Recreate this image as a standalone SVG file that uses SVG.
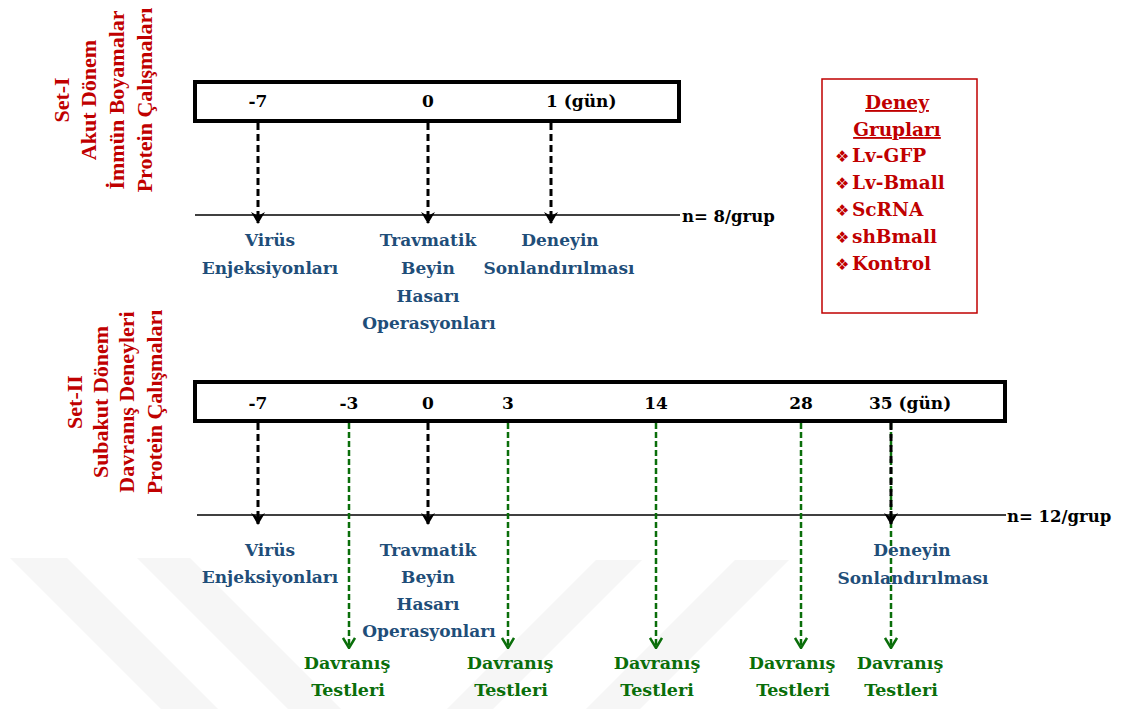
<svg xmlns="http://www.w3.org/2000/svg" width="1121" height="709" viewBox="0 0 1121 709">
<style>
.red{font-family:"Liberation Serif","Times New Roman",serif;font-weight:bold;font-size:22px;fill:#C00000;text-anchor:middle}
.num{font-family:"DejaVu Serif",serif;font-weight:bold;font-size:17px;fill:#000}
.nn{font-family:"DejaVu Serif",serif;font-weight:bold;font-size:16.5px;fill:#000}
.blue{font-family:"DejaVu Serif",serif;font-weight:bold;font-size:17px;fill:#1F4E79;text-anchor:middle}
.green{font-family:"DejaVu Serif",serif;font-weight:bold;font-size:17.5px;fill:#0A6E0A;text-anchor:middle}
.grp{font-family:"DejaVu Serif",serif;font-weight:bold;font-size:18.5px;fill:#C00000}
.bul{font-family:"DejaVu Sans",sans-serif;font-size:16px;font-weight:normal}
.box{fill:#fff;stroke:#000;stroke-width:4}
.axis{stroke:#000;stroke-width:1.5;fill:none}
.bdash{stroke:#000;stroke-width:3;stroke-dasharray:7 4;fill:none;marker-end:url(#ab)}
.gdash{stroke:#0A6E0A;stroke-width:2.5;stroke-dasharray:6 3;fill:none;marker-end:url(#ag)}
.wm{fill:#f6f6f6}
</style>
<defs>
<marker id="ab" viewBox="0 0 12 14" refX="11" refY="7" markerWidth="12" markerHeight="14" markerUnits="userSpaceOnUse" orient="auto">
<path d="M0,0 L12,7 L0,14 L4,7 z" fill="#000"/>
</marker>
<marker id="ag" viewBox="0 0 12 14" refX="11" refY="7" markerWidth="12" markerHeight="14" markerUnits="userSpaceOnUse" orient="auto">
<path d="M1,1 L11,7 L1,13" fill="none" stroke="#0A6E0A" stroke-width="2.5"/>
</marker>
</defs>
<rect width="1121" height="709" fill="#fff"/>
<g id="watermark">
<polygon class="wm" points="10,558 67,558 218,709 161,709"/>
<polygon class="wm" points="137,558 190,558 341,709 288,709"/>
<polygon class="wm" points="596,560 642,560 493,709 447,709"/>
<polygon class="wm" points="735,560 789,560 640,709 586,709"/>
</g>
<g id="set1-title">
<text class="red" transform="translate(69,100) rotate(-90)">Set-I</text>
<text class="red" transform="translate(96,100) rotate(-90)">Akut Dönem</text>
<text class="red" transform="translate(124,100) rotate(-90)">İmmün Boyamalar</text>
<text class="red" transform="translate(152,100) rotate(-90)">Protein Çalışmaları</text>
</g>
<g id="set2-title">
<text class="red" transform="translate(82,402) rotate(-90)">Set-II</text>
<text class="red" transform="translate(108,402) rotate(-90)">Subakut Dönem</text>
<text class="red" transform="translate(134,402) rotate(-90)">Davranış Deneyleri</text>
<text class="red" transform="translate(162,402) rotate(-90)">Protein Çalışmaları</text>
</g>
<g id="timeline1">
<rect class="box" x="195" y="82" width="484" height="39"/>
<text class="num" x="258" y="107" text-anchor="middle">-7</text>
<text class="num" x="428" y="107" text-anchor="middle">0</text>
<text class="num" x="546" y="107">1 (gün)</text>
</g>
<g id="timeline2">
<rect class="box" x="195" y="382" width="810" height="39"/>
<text class="num" x="258" y="409" text-anchor="middle">-7</text>
<text class="num" x="349" y="409" text-anchor="middle">-3</text>
<text class="num" x="428" y="409" text-anchor="middle">0</text>
<text class="num" x="508" y="409" text-anchor="middle">3</text>
<text class="num" x="656" y="409" text-anchor="middle">14</text>
<text class="num" x="801" y="409" text-anchor="middle">28</text>
<text class="num" x="869" y="409">35 (gün)</text>
</g>
<g id="connectors">
<line class="axis" x1="195" y1="215" x2="680" y2="215"/>
<line class="bdash" x1="258" y1="123" x2="258" y2="223"/>
<line class="bdash" x1="428" y1="123" x2="428" y2="223"/>
<line class="bdash" x1="551" y1="123" x2="551" y2="223"/>
<line class="axis" x1="197" y1="515" x2="1006" y2="515"/>
<line class="gdash" x1="349" y1="423" x2="349" y2="648"/>
<line class="gdash" x1="508" y1="423" x2="508" y2="648"/>
<line class="gdash" x1="656" y1="423" x2="656" y2="648"/>
<line class="gdash" x1="801" y1="423" x2="801" y2="648"/>
<line class="gdash" x1="891" y1="423" x2="891" y2="648"/>
<line class="bdash" x1="258" y1="423" x2="258" y2="524"/>
<line class="bdash" x1="428" y1="423" x2="428" y2="524"/>
<line class="bdash" x1="891" y1="423" x2="891" y2="524"/>
</g>
<g id="n1"><text class="nn" x="682" y="222">n= 8/grup</text></g>
<g id="n2"><text class="nn" x="1007" y="522">n= 12/grup</text></g>
<g id="set1-labels">
<text class="blue" x="270" y="246">Virüs</text>
<text class="blue" x="270" y="274">Enjeksiyonları</text>
<text class="blue" x="428" y="246">Travmatik</text>
<text class="blue" x="428" y="274">Beyin</text>
<text class="blue" x="428" y="302">Hasarı</text>
<text class="blue" x="429" y="329">Operasyonları</text>
<text class="blue" x="560" y="246">Deneyin</text>
<text class="blue" x="559" y="274">Sonlandırılması</text>
</g>
<g id="set2-labels">
<text class="blue" x="270" y="556">Virüs</text>
<text class="blue" x="270" y="583">Enjeksiyonları</text>
<text class="blue" x="428" y="556">Travmatik</text>
<text class="blue" x="428" y="583">Beyin</text>
<text class="blue" x="428" y="610">Hasarı</text>
<text class="blue" x="429" y="637">Operasyonları</text>
<text class="blue" x="912" y="556">Deneyin</text>
<text class="blue" x="913" y="584">Sonlandırılması</text>
</g>
<g id="behavior-tests">
<text class="green" x="347" y="669">Davranış</text>
<text class="green" x="348" y="696">Testleri</text>
<text class="green" x="510" y="669">Davranış</text>
<text class="green" x="511" y="696">Testleri</text>
<text class="green" x="657" y="669">Davranış</text>
<text class="green" x="657" y="696">Testleri</text>
<text class="green" x="792" y="669">Davranış</text>
<text class="green" x="793" y="696">Testleri</text>
<text class="green" x="900" y="669">Davranış</text>
<text class="green" x="901" y="696">Testleri</text>
</g>
<g id="groups">
<rect x="822" y="79" width="155" height="234" fill="none" stroke="#C00000" stroke-width="1.5"/>
<text class="grp" x="897" y="109" text-anchor="middle" text-decoration="underline">Deney</text>
<text class="grp" x="897" y="136" text-anchor="middle" text-decoration="underline">Grupları</text>
<text class="grp" y="162"><tspan class="bul" x="835">❖</tspan><tspan x="852">Lv-GFP</tspan></text>
<text class="grp" y="189"><tspan class="bul" x="835">❖</tspan><tspan x="852">Lv-Bmall</tspan></text>
<text class="grp" y="216"><tspan class="bul" x="835">❖</tspan><tspan x="852">ScRNA</tspan></text>
<text class="grp" y="243"><tspan class="bul" x="835">❖</tspan><tspan x="852">shBmall</tspan></text>
<text class="grp" y="270"><tspan class="bul" x="835">❖</tspan><tspan x="852">Kontrol</tspan></text>
</g>
</svg>
